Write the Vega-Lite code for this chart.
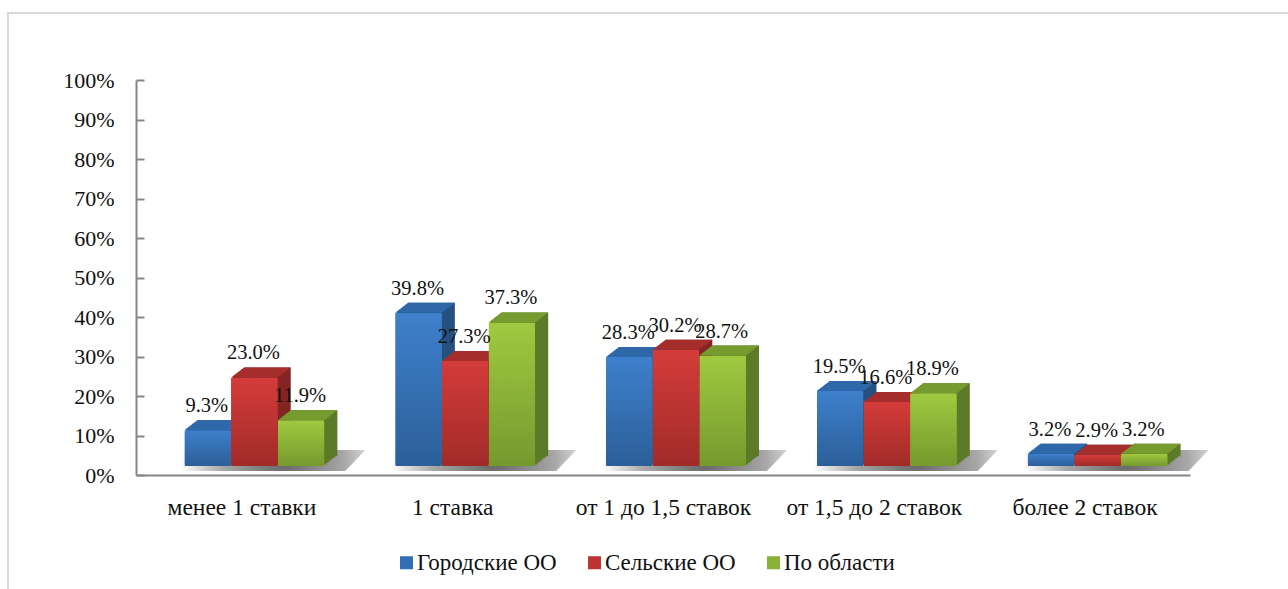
{
"$schema":"https://vega.github.io/schema/vega-lite/v6.json",
"autosize":{"type":"none"},
"padding":{"left":8,"top":13,"right":-3,"bottom":-3},
"width":1283,"height":579,
"background":"white",
"config":{"view":{"stroke":"#d9d9d9","strokeWidth":2,"fill":"white"},"font":"Liberation Serif","text":{"font":"Liberation Serif"}},
"data":{"values":[
{"cat":"менее 1 ставки","s":"Городские ОО","v":0.093},
{"cat":"менее 1 ставки","s":"Сельские ОО","v":0.23},
{"cat":"менее 1 ставки","s":"По области","v":0.119},
{"cat":"1 ставка","s":"Городские ОО","v":0.398},
{"cat":"1 ставка","s":"Сельские ОО","v":0.273},
{"cat":"1 ставка","s":"По области","v":0.373},
{"cat":"от  1 до 1,5 ставок","s":"Городские ОО","v":0.283},
{"cat":"от  1 до 1,5 ставок","s":"Сельские ОО","v":0.302},
{"cat":"от  1 до 1,5 ставок","s":"По области","v":0.287},
{"cat":"от  1,5 до 2 ставок","s":"Городские ОО","v":0.195},
{"cat":"от  1,5 до 2 ставок","s":"Сельские ОО","v":0.166},
{"cat":"от  1,5 до 2 ставок","s":"По области","v":0.189},
{"cat":"более 2 ставок","s":"Городские ОО","v":0.032},
{"cat":"более 2 ставок","s":"Сельские ОО","v":0.029},
{"cat":"более 2 ставок","s":"По области","v":0.032}
]},
"encoding":{
"xOffset":{"field":"s","type":"nominal","sort":null,"scale":{"domain":["Городские ОО","Сельские ОО","По области"]}},
"y":{"field":"v","type":"quantitative","title":null,"axis":null,"scale":{"domain":[0,1.026],"range":[453,58],"nice":false}}
},
"layer":[
{"data":{"values":[{"cat":"менее 1 ставки","z":0},{"cat":"1 ставка","z":0},{"cat":"от  1 до 1,5 ставок","z":0},{"cat":"от  1,5 до 2 ставок","z":0},{"cat":"более 2 ставок","z":0}]},
 "mark":{"type":"point","filled":true,"opacity":1,"size":4,"shape":"M-81,-4 L-56,-25 L124,-25 L104,-4 Z","fill":{"gradient":"radial","x1":0.6,"y1":0.5,"r1":0,"x2":0.6,"y2":0.5,"r2":0.5,"stops":[{"offset":0,"color":"#666666"},{"offset":0.6,"color":"#a8a8a8"},{"offset":1,"color":"#ffffff"}]}},
 "encoding":{"xOffset":null,
  "x":{"field":"cat","type":"nominal","sort":null,"title":null,
   "scale":{"domain":["менее 1 ставки","1 ставка","от  1 до 1,5 ставок","от  1,5 до 2 ставок","более 2 ставок"],"range":[128,1182],"paddingInner":0.336,"paddingOuter":0.168},
   "axis":{"orient":"bottom","offset":-117,"domainColor":"#868686","domainWidth":2,"ticks":false,"labelAngle":0,"labelFontSize":23.5,"labelColor":"#111","labelFont":"Liberation Serif","labelPadding":20,"labelLimit":300,"grid":false}},
  "y":{"field":"z","type":"quantitative","title":null,"scale":{"domain":[0,1],"range":[462,67],"nice":false},
   "axis":{"orient":"left","offset":-128,"values":[0,0.1,0.2,0.3,0.4,0.5,0.6,0.7,0.8,0.9,1],"format":".0%","domainColor":"#868686","domainWidth":2,"tickColor":"#868686","tickWidth":2,"tickSize":-8,"labelFontSize":22,"labelColor":"#111","labelFont":"Liberation Serif","labelPadding":30,"grid":false}}}},
{"mark":{"type":"bar"},"encoding":{"x":{"field":"cat","sort":null,"axis":null,"scale":{"domain":["менее 1 ставки","1 ставка","от  1 до 1,5 ставок","от  1,5 до 2 ставок","более 2 ставок"],"range":[143,1197],"paddingInner":0.336,"paddingOuter":0.168}},"y":{"field":"v","type":"quantitative","title":null,"axis":null,"scale":{"domain":[0,1.026],"range":[451.4,56.4],"nice":false}},"fill":{"field":"s","legend":null,"scale":{"domain":["По области","Сельские ОО","Городские ОО"],"range":["#5c7a28","#842422","#25507f"]}}}},
{"mark":{"type":"bar"},"encoding":{"x":{"field":"cat","sort":null,"axis":null,"scale":{"domain":["менее 1 ставки","1 ставка","от  1 до 1,5 ставок","от  1,5 до 2 ставок","более 2 ставок"],"range":[145,1199],"paddingInner":0.336,"paddingOuter":0.168}},"y":{"field":"v","type":"quantitative","title":null,"axis":null,"scale":{"domain":[0,1.026],"range":[449.8,54.8],"nice":false}},"fill":{"field":"s","legend":null}}},
{"mark":{"type":"bar"},"encoding":{"x":{"field":"cat","sort":null,"axis":null,"scale":{"domain":["менее 1 ставки","1 ставка","от  1 до 1,5 ставок","от  1,5 до 2 ставок","более 2 ставок"],"range":[147,1201],"paddingInner":0.336,"paddingOuter":0.168}},"y":{"field":"v","type":"quantitative","title":null,"axis":null,"scale":{"domain":[0,1.026],"range":[448.2,53.2],"nice":false}},"fill":{"field":"s","legend":null}}},
{"mark":{"type":"bar"},"encoding":{"x":{"field":"cat","sort":null,"axis":null,"scale":{"domain":["менее 1 ставки","1 ставка","от  1 до 1,5 ставок","от  1,5 до 2 ставок","более 2 ставок"],"range":[149,1203],"paddingInner":0.336,"paddingOuter":0.168}},"y":{"field":"v","type":"quantitative","title":null,"axis":null,"scale":{"domain":[0,1.026],"range":[446.6,51.6],"nice":false}},"fill":{"field":"s","legend":null}}},
{"mark":{"type":"bar"},"encoding":{"x":{"field":"cat","sort":null,"axis":null,"scale":{"domain":["менее 1 ставки","1 ставка","от  1 до 1,5 ставок","от  1,5 до 2 ставок","более 2 ставок"],"range":[151,1205],"paddingInner":0.336,"paddingOuter":0.168}},"y":{"field":"v","type":"quantitative","title":null,"axis":null,"scale":{"domain":[0,1.026],"range":[445,50],"nice":false}},"fill":{"field":"s","legend":null}}},
{"mark":{"type":"bar"},"encoding":{"x":{"field":"cat","sort":null,"axis":null,"scale":{"domain":["менее 1 ставки","1 ставка","от  1 до 1,5 ставок","от  1,5 до 2 ставок","более 2 ставок"],"range":[153,1207],"paddingInner":0.336,"paddingOuter":0.168}},"y":{"field":"v","type":"quantitative","title":null,"axis":null,"scale":{"domain":[0,1.026],"range":[443.6,48.6],"nice":false}},"fill":{"field":"s","legend":null}}},
{"mark":{"type":"bar"},"encoding":{"x":{"field":"cat","sort":null,"axis":null,"scale":{"domain":["менее 1 ставки","1 ставка","от  1 до 1,5 ставок","от  1,5 до 2 ставок","более 2 ставок"],"range":[154,1208],"paddingInner":0.336,"paddingOuter":0.168}},"y":{"field":"v","type":"quantitative","title":null,"axis":null,"scale":{"domain":[0,1.026],"range":[443,48],"nice":false}},"fill":{"field":"s","legend":null}}},
{"transform":[{"filter":"datum.s==='Городские ОО'"}],"mark":{"type":"point","filled":true,"opacity":1,"size":4,"fill":"#2e68a8","shape":"M-23.3,0 L-10.3,-10 L36.3,-10 L23.3,0 Z"},"encoding":{"x":{"field":"cat","sort":null,"axis":null,"scale":{"domain":["менее 1 ставки","1 ставка","от  1 до 1,5 ставок","от  1,5 до 2 ставок","более 2 ставок"],"range":[141,1195],"paddingInner":0.336,"paddingOuter":0.168}}}},
{"transform":[{"filter":"datum.s==='Сельские ОО'"}],"mark":{"type":"point","filled":true,"opacity":1,"size":4,"fill":"#a52e2c","shape":"M-23.3,0 L-10.3,-10 L36.3,-10 L23.3,0 Z"},"encoding":{"x":{"field":"cat","sort":null,"axis":null,"scale":{"domain":["менее 1 ставки","1 ставка","от  1 до 1,5 ставок","от  1,5 до 2 ставок","более 2 ставок"],"range":[141,1195],"paddingInner":0.336,"paddingOuter":0.168}}}},
{"transform":[{"filter":"datum.s==='По области'"}],"mark":{"type":"point","filled":true,"opacity":1,"size":4,"fill":"#769c30","shape":"M-23.3,0 L-10.3,-10 L36.3,-10 L23.3,0 Z"},"encoding":{"x":{"field":"cat","sort":null,"axis":null,"scale":{"domain":["менее 1 ставки","1 ставка","от  1 до 1,5 ставок","от  1,5 до 2 ставок","более 2 ставок"],"range":[141,1195],"paddingInner":0.336,"paddingOuter":0.168}}}},
{"mark":{"type":"bar","cornerRadius":1.5},
 "encoding":{"x":{"field":"cat","sort":null,"axis":null,"scale":{"domain":["менее 1 ставки","1 ставка","от  1 до 1,5 ставок","от  1,5 до 2 ставок","более 2 ставок"],"range":[141,1195],"paddingInner":0.336,"paddingOuter":0.168}},"color":{"field":"s","title":null,
  "scale":{"domain":["Городские ОО","Сельские ОО","По области"],"range":["#336fb5","#bd3432","#8bb237"]},
  "legend":{"orient":"none","legendX":387,"legendY":538,"direction":"horizontal","columns":3,"title":null,"symbolType":"square","symbolSize":170,"symbolStrokeWidth":0,"labelFontSize":23,"labelColor":"#111","labelFont":"Liberation Serif","labelOffset":-1,"columnPadding":26,"labelLimit":300}}}},
{"transform":[{"filter":"datum.s==='Городские ОО'"}],"mark":{"type":"bar","cornerRadius":1.5,"fill":{"gradient":"linear","x1":0,"y1":0,"x2":0,"y2":1,"stops":[{"offset":0,"color":"#3e80cc"},{"offset":1,"color":"#2b5f98"}]}},"encoding":{"x":{"field":"cat","sort":null,"axis":null,"scale":{"domain":["менее 1 ставки","1 ставка","от  1 до 1,5 ставок","от  1,5 до 2 ставок","более 2 ставок"],"range":[141,1195],"paddingInner":0.336,"paddingOuter":0.168}}}},
{"transform":[{"filter":"datum.s==='Сельские ОО'"}],"mark":{"type":"bar","cornerRadius":1.5,"fill":{"gradient":"linear","x1":0,"y1":0,"x2":0,"y2":1,"stops":[{"offset":0,"color":"#d43c3a"},{"offset":1,"color":"#a12b29"}]}},"encoding":{"x":{"field":"cat","sort":null,"axis":null,"scale":{"domain":["менее 1 ставки","1 ставка","от  1 до 1,5 ставок","от  1,5 до 2 ставок","более 2 ставок"],"range":[141,1195],"paddingInner":0.336,"paddingOuter":0.168}}}},
{"transform":[{"filter":"datum.s==='По области'"}],"mark":{"type":"bar","cornerRadius":1.5,"fill":{"gradient":"linear","x1":0,"y1":0,"x2":0,"y2":1,"stops":[{"offset":0,"color":"#9fca40"},{"offset":1,"color":"#76992e"}]}},"encoding":{"x":{"field":"cat","sort":null,"axis":null,"scale":{"domain":["менее 1 ставки","1 ставка","от  1 до 1,5 ставок","от  1,5 до 2 ставок","более 2 ставок"],"range":[141,1195],"paddingInner":0.336,"paddingOuter":0.168}}}},
{"mark":{"type":"text","font":"Liberation Serif","fontSize":20.5,"fill":"#111","baseline":"middle","align":"center","dy":-24},
 "encoding":{"x":{"field":"cat","sort":null,"axis":null,"scale":{"domain":["менее 1 ставки","1 ставка","от  1 до 1,5 ставок","от  1,5 до 2 ставок","более 2 ставок"],"range":[140,1194],"paddingInner":0.336,"paddingOuter":0.168}},"text":{"field":"v","type":"quantitative","format":".1%"}}}
],
"resolve":{"scale":{"x":"independent","y":"independent","xOffset":"independent"}}
}
